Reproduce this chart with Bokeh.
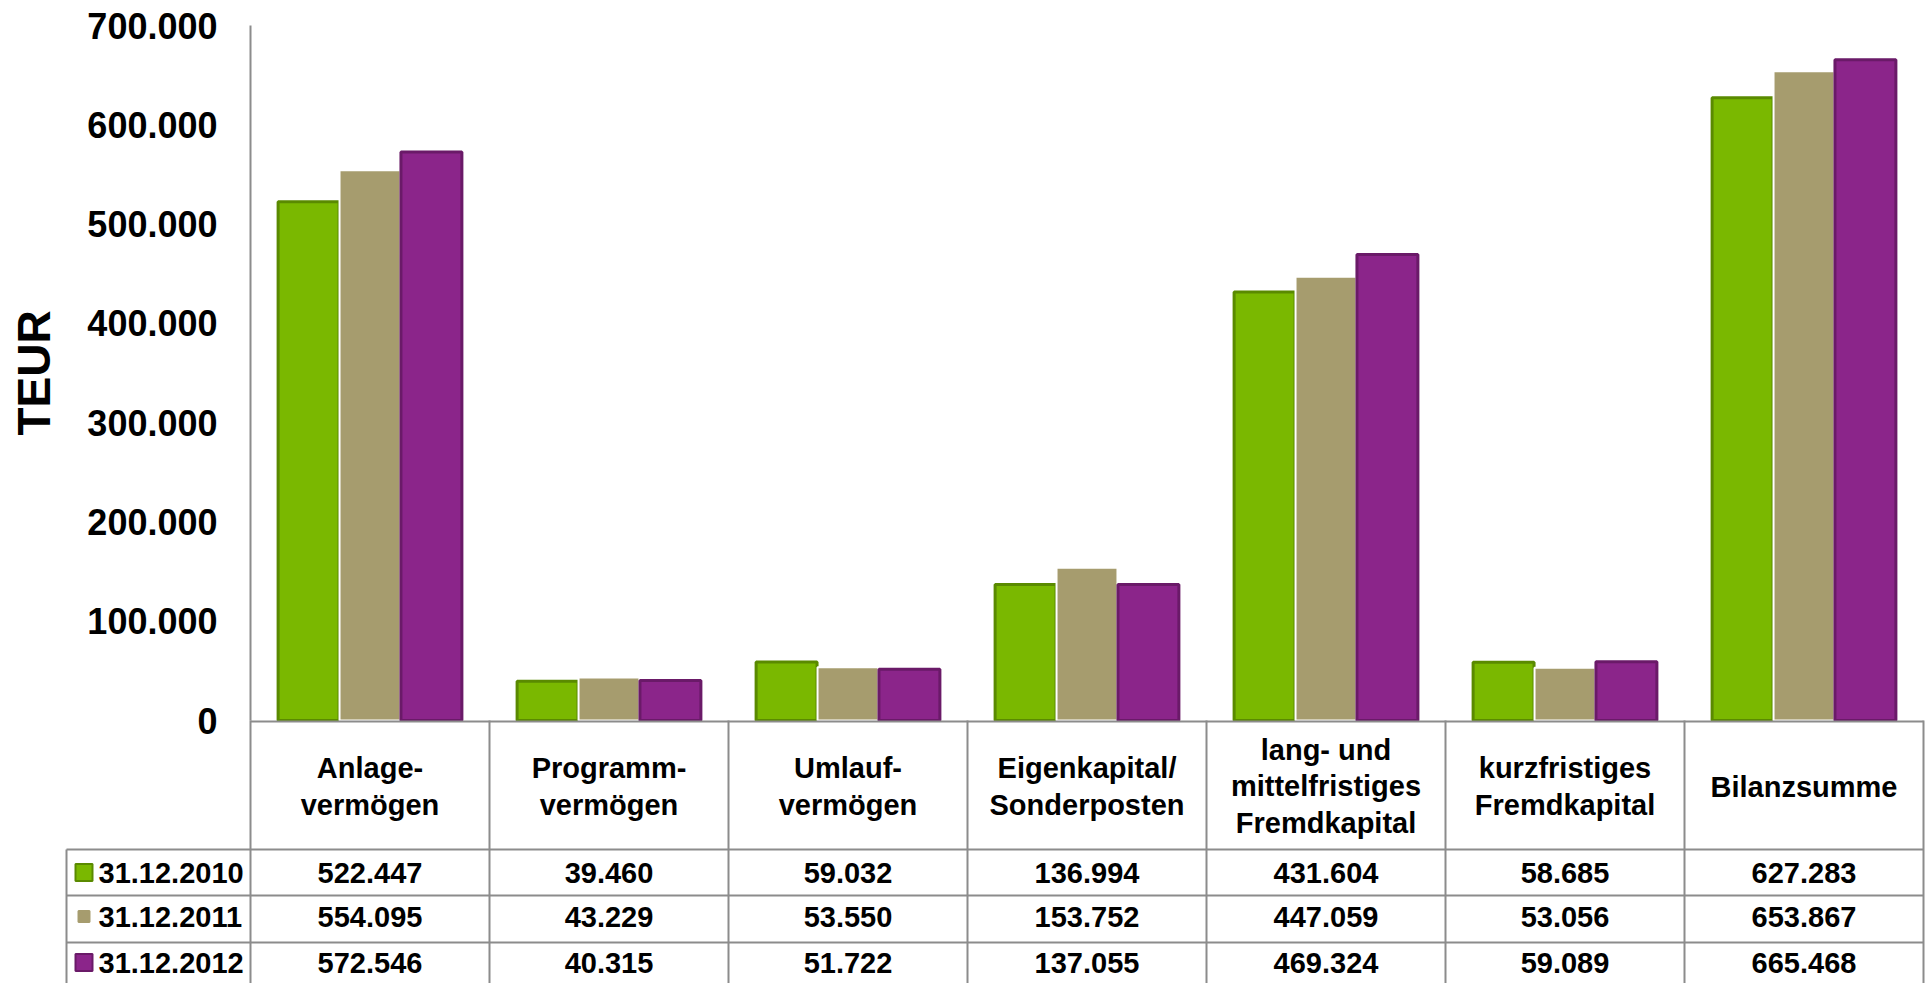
from bokeh.plotting import figure
from bokeh.models import ColumnDataSource, Range1d, FixedTicker, LinearAxis
from bokeh.transform import dodge
from bokeh.embed import file_html
from bokeh.resources import INLINE
from bokeh.core.properties import value

# ---------------- data ----------------
categories = [
    "Anlage-\nvermögen",
    "Programm-\nvermögen",
    "Umlauf-\nvermögen",
    "Eigenkapital/\nSonderposten",
    "lang- und\nmittelfristiges\nFremdkapital",
    "kurzfristiges\nFremdkapital",
    "Bilanzsumme",
]
series_names = ["31.12.2010", "31.12.2011", "31.12.2012"]
v2010 = [522447, 39460, 59032, 136994, 431604, 58685, 627283]
v2011 = [554095, 43229, 53550, 153752, 447059, 53056, 653867]
v2012 = [572546, 40315, 51722, 137055, 469324, 59089, 665468]
y_ticks = [0, 100000, 200000, 300000, 400000, 500000, 600000, 700000]
y_tick_labels = ["0", "100.000", "200.000", "300.000", "400.000", "500.000", "600.000", "700.000"]
y_axis_title = "TEUR"

# ---------------- styles / layout constants ----------------
FILL = ["#7AB800", "#A69C6E", "#8B258A"]
EDGE = ["#5A8A00", "#FFFFFF", "#6A1A68"]
GRID = "#8C8C8C"
FONT = "Liberation Sans"

W, H = 1925, 983          # figure = frame
X0 = 250                  # x of the value axis (px)
U = 239                   # px per category column
LEG = 184                 # px width of legend column
BASE = 720                # y of value 0 (px from top)
PLOT_H = 695              # px for 0..700000
YMAX = 700000
NCAT = len(categories)

def de(v):
    return f"{v:,}".replace(",", ".")

p = figure(
    x_range=Range1d(-X0 / U, (W - X0) / U),
    y_range=Range1d(-(H - BASE) / PLOT_H * YMAX, BASE / PLOT_H * YMAX),
    frame_width=W, frame_height=H, min_border=0,
    x_axis_location=None, y_axis_location=None,
    output_backend="svg", toolbar_location=None,
    outline_line_color=None, background_fill_color="white", border_fill_color="white",
)
p.grid.visible = False
# table coordinates: px below the value-0 line
p.extra_y_ranges = {"tab": Range1d(H - BASE, -BASE)}

# ---------------- bars ----------------
cat_x = [i + 0.5 for i in range(NCAT)]
src = ColumnDataSource(dict(x=cat_x, a=v2010, b=v2011, c=v2012))
off = 0.257
bw = 0.255
for col, o, fc, lc, lw in zip(["a", "b", "c"], [-off, 0, off], FILL, EDGE, [3, 2, 3]):
    p.vbar(x=dodge("x", o), top=col, bottom=0, width=bw,
           source=src, fill_color=fc, line_color=lc, line_width=lw)

# ---------------- value axis ----------------
ya = LinearAxis(fixed_location=0, ticker=FixedTicker(ticks=y_ticks), bounds=(0, YMAX))
ya.major_label_overrides = dict(zip(y_ticks, y_tick_labels))
ya.major_label_text_font = FONT
ya.major_label_text_font_size = "36px"
ya.major_label_text_font_style = "bold"
ya.major_label_text_color = "black"
ya.major_label_standoff = 33
ya.major_tick_line_color = None
ya.minor_tick_line_color = None
ya.major_tick_in = 0
ya.major_tick_out = 0
ya.axis_line_color = GRID
ya.axis_line_width = 2
ya.axis_label = y_axis_title
ya.axis_label_text_font = FONT
ya.axis_label_text_font_size = "46px"
ya.axis_label_text_font_style = "bold"
ya.axis_label_text_color = "black"
ya.axis_label_standoff = 24
p.add_layout(ya, "left")

# ---------------- table ----------------
TOP_Y = 1
HEAD_BOT = 129
ROW_LINES = [175, 222, 268]
ROW_TEXT_Y = [152, 196, 242]
HEAD_Y = 66
R = "tab"

xl = -LEG / U
x0s, y0s, x1s, y1s = [], [], [], []
x0s.append(0); x1s.append(NCAT); y0s.append(TOP_Y); y1s.append(TOP_Y)
for yy in [HEAD_BOT] + ROW_LINES:
    x0s.append(xl); x1s.append(NCAT); y0s.append(yy); y1s.append(yy)
for i in range(NCAT + 1):
    x0s.append(i); x1s.append(i); y0s.append(0); y1s.append(ROW_LINES[-1])
x0s.append(xl); x1s.append(xl); y0s.append(HEAD_BOT); y1s.append(ROW_LINES[-1])
p.segment(x0=x0s, y0=y0s, x1=x1s, y1=y1s, line_color=GRID, line_width=2, y_range_name=R)

txt = dict(text_font=value(FONT), text_font_size="29px", text_font_style="bold",
           text_color="black", text_baseline="middle", y_range_name=R)

p.text(x=cat_x, y=[HEAD_Y] * NCAT, text=categories, text_align="center",
       text_line_height=1.15, **txt)

for vals, ty in zip([v2010, v2011, v2012], ROW_TEXT_Y):
    p.text(x=cat_x, y=[ty] * NCAT, text=[de(v) for v in vals], text_align="center", **txt)

mark_x = -(250 - 83.5) / U
lab_x = -(250 - 98) / U
p.scatter(x=[mark_x] * 3, y=ROW_TEXT_Y, marker="square", size=[17, 11, 17],
          fill_color=FILL, line_color=[EDGE[0], FILL[1], EDGE[2]], line_width=2, y_range_name=R)
p.text(x=[lab_x] * 3, y=ROW_TEXT_Y, text=series_names, text_align="left", **txt)

open("out.html", "w").write(file_html(p, INLINE))
